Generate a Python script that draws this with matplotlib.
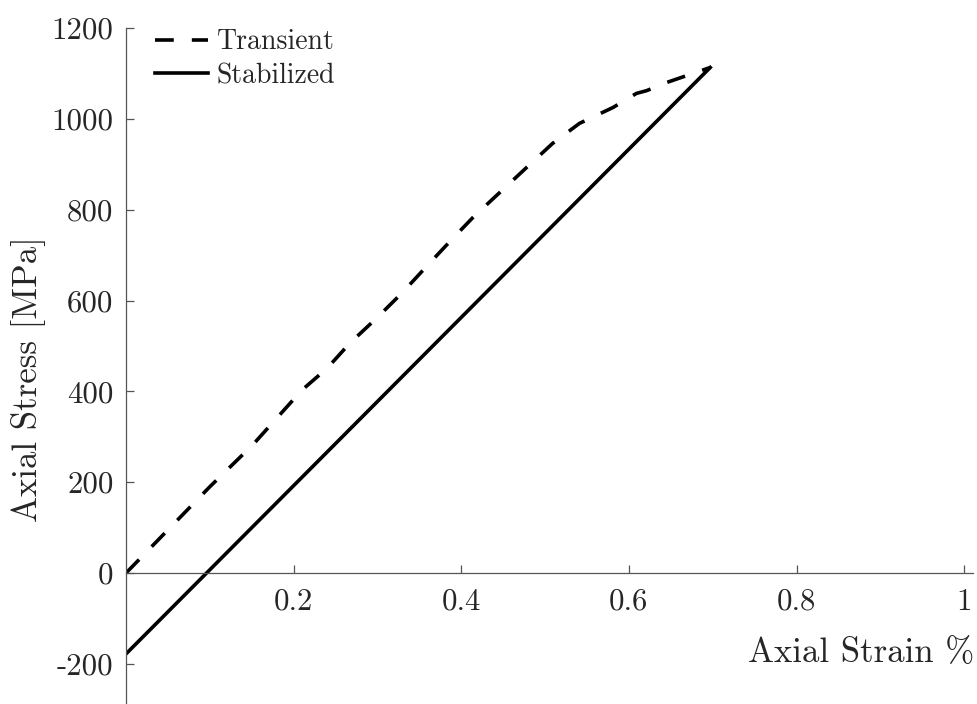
import matplotlib
matplotlib.use("Agg")
import matplotlib.pyplot as plt

# Data
transient_strain = [0.0, 0.05, 0.10, 0.15, 0.155, 0.21, 0.24, 0.267, 0.30, 0.33, 0.36,
                    0.39, 0.414, 0.446, 0.478, 0.509, 0.541, 0.581, 0.609, 0.621, 0.645, 0.697]
transient_stress = [0.0, 95, 190, 280, 290, 403, 451, 506, 563, 618, 678,
                    737, 783, 838, 893, 946, 990, 1025, 1056, 1062, 1080, 1113]
stabilized_strain = [0.0, 0.697]
stabilized_stress = [-178, 1113]

xticks = [0.2, 0.4, 0.6, 0.8, 1.0]
xticklabels = ["0.2", "0.4", "0.6", "0.8", "1"]
yticks = [-200, 0, 200, 400, 600, 800, 1000, 1200]
yticklabels = ["-200", "0", "200", "400", "600", "800", "1000", "1200"]

plt.rcParams['font.family'] = ['cmr10', 'DejaVu Serif']
plt.rcParams['axes.unicode_minus'] = False

txt = '#262626'
spc = '#555555'
FS = 22.2
LFS = 25
LEGFS = 20

fig = plt.figure(figsize=(9.78, 7.04), dpi=100)
ax = fig.add_axes([126/978, 1.5/704, 847/978, 674.5/704])

ax.plot(transient_strain, transient_stress, color='black', lw=2.6,
        dashes=(5.2, 5.0), label='Transient', solid_capstyle='butt', dash_capstyle='butt')
ax.plot(stabilized_strain, stabilized_stress, color='black', lw=2.6, label='Stabilized')

ax.set_xlim(0, 1.0105)
ax.set_ylim(-285, 1200)

ax.spines['left'].set_position(('data', 0))
ax.spines['bottom'].set_position(('data', 0))
ax.spines['top'].set_visible(False)
ax.spines['right'].set_visible(False)
for s in ('left', 'bottom'):
    ax.spines[s].set_color(spc)
    ax.spines[s].set_linewidth(0.9)

ax.set_xticks(xticks)
ax.set_xticklabels(xticklabels)
ax.set_yticks(yticks)
ax.set_yticklabels(yticklabels)
ax.tick_params(axis='x', direction='in', length=6, width=0.9, color=spc,
               labelsize=FS, labelcolor=txt, pad=11)
ax.tick_params(axis='y', direction='in', length=6, width=0.9, color=spc,
               labelsize=FS, labelcolor=txt, pad=9)

fig.text(974/978, 1 - 662/704, 'Axial Strain %', ha='right', va='baseline',
         fontsize=LFS, color=txt)
fig.text(29/978, 1 - 379/704, 'Axial Stress [MPa]', ha='center', va='center',
         rotation=90, fontsize=LFS, color=txt)

leg = ax.legend(loc='upper left', bbox_to_anchor=(155/978, 1 - 29/704),
                bbox_transform=fig.transFigure, frameon=False, fontsize=LEGFS,
                handlelength=1.9, handletextpad=0.32, labelspacing=0.27,
                borderpad=0, borderaxespad=0)
for t in leg.get_texts():
    t.set_color(txt)

fig.savefig('out.png', dpi=100)
